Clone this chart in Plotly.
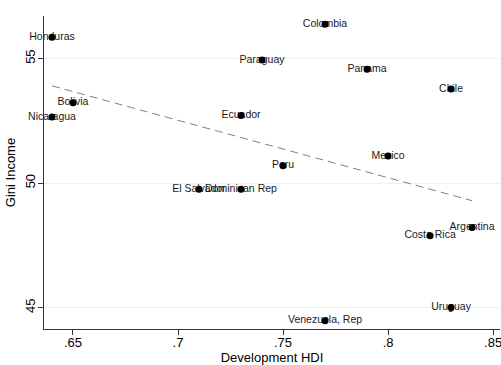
import numpy as np
import plotly.graph_objects as go

countries = ["Honduras", "Bolivia", "Nicaragua", "Ecuador", "El Salvador", "Dominican Rep",
             "Paraguay", "Colombia", "Panama", "Chile", "Mexico", "Peru",
             "Argentina", "Costa Rica", "Uruguay", "Venezuela, Rep"]
hdi = [0.64, 0.65, 0.64, 0.73, 0.71, 0.73,
       0.74, 0.77, 0.79, 0.83, 0.80, 0.75,
       0.84, 0.82, 0.83, 0.77]
gini = [55.86, 53.23, 52.65, 52.71, 49.75, 49.75,
        54.94, 56.38, 54.57, 53.78, 51.09, 50.70,
        48.22, 47.88, 45.00, 44.47]

x_ticks = [0.65, 0.70, 0.75, 0.80, 0.85]
x_ticklabels = [".65", ".7", ".75", ".8", ".85"]
y_ticks = [45, 50, 55]
y_ticklabels = ["45", "50", "55"]

slope, intercept = np.polyfit(hdi, gini, 1)
fit_x = [min(hdi), max(hdi)]
fit_y = [intercept + slope * v for v in fit_x]

FONT = "Liberation Sans, Arial, sans-serif"

fig = go.Figure()
fig.add_trace(go.Scatter(x=fit_x, y=fit_y, mode="lines",
                         line=dict(color="#7f7f7f", width=1, dash="8px,5px"),
                         hoverinfo="skip", showlegend=False))
fig.add_trace(go.Scatter(x=hdi, y=gini, mode="text", text=countries,
                         textposition="middle center", cliponaxis=False,
                         textfont=dict(family=FONT, size=10.5, color="#1a1a1a"),
                         showlegend=False))
fig.add_trace(go.Scatter(x=hdi, y=gini, mode="markers", cliponaxis=False,
                         marker=dict(color="black", size=7),
                         showlegend=False))

fig.update_layout(
    width=501, height=365,
    margin=dict(l=44, r=1, t=16, b=36, autoexpand=False),
    paper_bgcolor="white", plot_bgcolor="white",
    font=dict(family=FONT, color="black", size=13),
    showlegend=False,
    xaxis=dict(range=[0.6362, 0.8533], tickvals=x_ticks, ticktext=x_ticklabels,
               showgrid=False, zeroline=False, showline=True, linecolor="#333333",
               linewidth=1, ticks="outside", ticklen=5, tickcolor="#333333",
               tickfont=dict(size=13), ticklabeloverflow="allow",
               ticklabelstandoff=-4, automargin=False,
               title=dict(text="Development HDI", font=dict(size=13), standoff=8)),
    yaxis=dict(range=[44.14, 56.71], tickvals=y_ticks, ticktext=y_ticklabels,
               showgrid=True, gridcolor="#eaf2f3", gridwidth=1,
               zeroline=False, showline=True, linecolor="#333333",
               linewidth=1, ticks="outside", ticklen=5, tickcolor="#333333",
               tickangle=-90, tickfont=dict(size=13), ticklabelstandoff=-2,
               automargin=False,
               title=dict(text="Gini Income", font=dict(size=13), standoff=4)),
)

fig.write_html("out.html")
